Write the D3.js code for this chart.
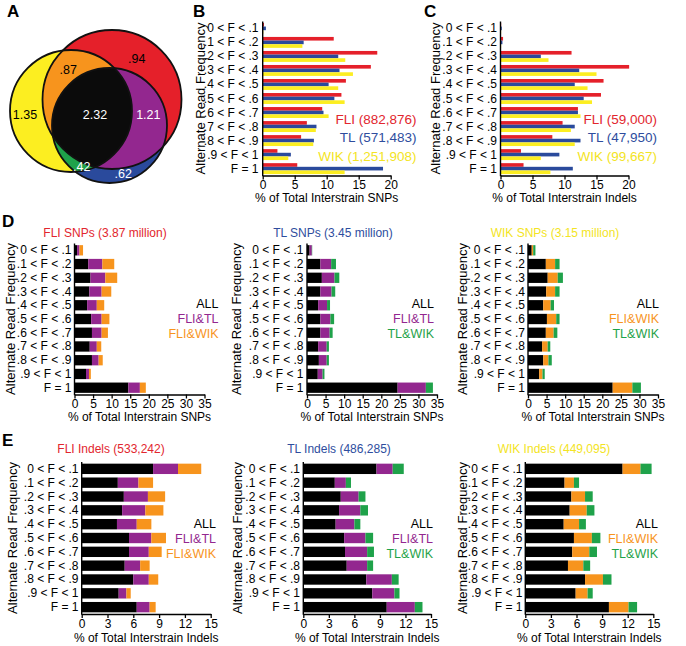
<!DOCTYPE html>
<html><head><meta charset="utf-8">
<script src="https://cdn.jsdelivr.net/npm/d3@7"></script>
<style>
body{margin:0;background:#fff}
svg{display:block}
text{font-family:"Liberation Sans",Arial,Helvetica,sans-serif}
</style>
</head><body>
<svg id="chart" width="686" height="646"></svg>
<script>
// ---------------- DATA ----------------
const categories = ["0 < F < .1", ".1 < F < .2", ".2 < F < .3", ".3 < F < .4", ".4 < F < .5",
  ".5 < F < .6", ".6 < F < .7", ".7 < F < .8", ".8 < F < .9", ".9 < F < 1", "F = 1"];

// Panel A: Venn (millions of SNPs)
const vennLabels = ["1.35", ".94", ".62", ".87", ".42", "1.21", "2.32"]; // Y, R, B, YR, YB, RB, YRB

// Panel B: % of total interstrain SNPs
const snpFLI = [0.2, 11.1, 17.9, 16.9, 13.0, 12.3, 9.3, 6.9, 6.0, 2.3, 5.4];
const snpTL  = [0.5, 6.4, 11.8, 12.0, 10.3, 11.2, 9.5, 8.4, 8.0, 4.4, 18.8];
const snpWIK = [0.1, 6.2, 12.9, 14.1, 11.8, 12.8, 10.3, 8.3, 7.9, 4.0, 12.8];
const snpLegend = ["FLI (882,876)", "TL (571,483)", "WIK (1,251,908)"];

// Panel C: % of total interstrain indels
const indelFLI = [0.1, 0.4, 11.1, 20.1, 16.1, 15.7, 12.1, 9.7, 8.1, 3.2, 3.6];
const indelTL  = [0.2, 0.3, 6.3, 12.3, 11.6, 13.0, 12.1, 11.6, 12.5, 9.2, 11.3];
const indelWIK = [0.1, 0.1, 7.5, 15.0, 13.6, 14.3, 12.5, 11.0, 11.6, 6.3, 7.8];
const indelLegend = ["FLI (59,000)", "TL (47,950)", "WIK (99,667)"];

// Panel D: stacked SNPs (segments)
const dFLI_all = [0.7, 3.7, 4.3, 4.0, 3.4, 4.5, 4.7, 4.1, 4.7, 3.1, 14.5];
const dFLI_tl  = [0.65, 3.8, 4.0, 3.3, 2.6, 2.8, 2.6, 1.9, 1.8, 0.8, 3.1];
const dFLI_wik = [0.95, 3.2, 3.2, 2.6, 2.0, 2.1, 1.7, 1.2, 1.1, 0.5, 1.6];
const dTL_all  = [0.7, 3.6, 4.0, 3.6, 3.0, 3.6, 3.6, 3.0, 3.2, 2.9, 24.4];
const dTL_fli  = [0.6, 2.9, 3.4, 3.0, 2.4, 2.7, 2.5, 2.3, 2.1, 1.3, 7.6];
const dTL_wik  = [0.1, 1.3, 1.3, 1.0, 0.8, 1.0, 0.8, 0.6, 0.6, 0.5, 1.9];
const dWIK_all = [1.0, 4.8, 5.3, 4.9, 4.1, 5.1, 4.8, 3.8, 4.1, 3.0, 22.8];
const dWIK_fli = [0.4, 2.5, 2.7, 2.4, 2.0, 2.5, 2.1, 1.5, 1.4, 0.9, 5.3];
const dWIK_tl  = [0.6, 1.2, 1.4, 1.2, 0.9, 0.9, 1.0, 0.7, 0.9, 0.6, 2.3];

// Panel E: stacked indels (segments)
const eFLI_all = [8.3, 4.2, 4.9, 4.7, 4.1, 5.5, 5.5, 5.0, 6.0, 4.3, 6.4];
const eFLI_tl  = [2.9, 2.4, 2.8, 2.7, 2.3, 2.6, 2.3, 1.8, 1.8, 0.9, 1.5];
const eFLI_wik = [2.7, 1.7, 2.0, 2.1, 1.7, 1.7, 1.5, 1.1, 1.1, 0.5, 0.7];
const eTL_all  = [8.6, 3.7, 4.4, 4.2, 3.8, 4.8, 4.9, 5.1, 7.4, 8.1, 9.8];
const eTL_fli  = [1.9, 1.3, 2.1, 2.5, 2.2, 2.5, 2.6, 2.4, 3.0, 2.6, 3.3];
const eTL_wik  = [1.3, 0.6, 0.8, 0.9, 0.7, 0.9, 0.8, 0.7, 0.8, 0.6, 0.9];
const eWIK_all = [11.4, 4.6, 5.4, 5.2, 4.5, 5.7, 5.5, 5.0, 7.0, 5.9, 9.8];
const eWIK_fli = [2.1, 1.1, 1.6, 2.0, 1.8, 2.1, 2.0, 1.8, 2.1, 1.4, 2.3];
const eWIK_tl  = [1.3, 0.6, 0.9, 0.9, 0.8, 1.0, 0.9, 0.8, 1.0, 0.6, 1.0];

const snpTicks = [0, 5, 10, 15, 20];
const dTicks = [0, 5, 10, 15, 20, 25, 30, 35];
const eTicks = [0, 3, 6, 9, 12, 15];

// ---------------- STYLE ----------------
const C = {
  red: "#e5202a", blue: "#2a4a9c", yellow: "#fcee21",
  black: "#000000", purple: "#93278f", orange: "#f7941d", green: "#1fa24a",
  redText: "#e2262e", blueText: "#2e4d9e", yellowText: "#f3e424"
};

const svg = d3.select("#chart");

function panelLetter(t, x, y) {
  svg.append("text").attr("x", x).attr("y", y).text(t)
    .attr("font-size", 17).attr("font-weight", "bold").attr("fill", "#000");
}

function styleAxis(g, fs) {
  g.select(".domain").attr("stroke", "#000").attr("stroke-width", 1.4);
  g.selectAll(".tick line").attr("stroke", "#000").attr("stroke-width", 1.3);
  g.selectAll(".tick text").attr("font-size", fs).attr("fill", "#000")
    .attr("font-family", "'Liberation Sans',Arial,sans-serif");
}

function frame(o, y, x) {
  // category labels
  svg.append("g").selectAll("text").data(categories).join("text")
    .attr("x", o.labX).attr("y", d => y(d) + y.bandwidth() / 2)
    .attr("text-anchor", "end").attr("dominant-baseline", "central")
    .attr("font-size", 12).attr("fill", "#000").text(d => d);
  // x axis
  const ga = svg.append("g").attr("transform", `translate(0,${o.y1})`)
    .call(d3.axisBottom(x).tickValues(o.ticks).tickSize(4).tickSizeOuter(0).tickPadding(1));
  styleAxis(ga, 12);
  // y axis line
  svg.append("line").attr("x1", x(0)).attr("x2", x(0)).attr("y1", o.y0).attr("y2", o.y1 + 0.7)
    .attr("stroke", "#000").attr("stroke-width", 1.4);
  // rotated title
  svg.append("text")
    .attr("transform", `translate(${o.rotX},${(o.y0 + o.y1) / 2}) rotate(-90)`)
    .attr("text-anchor", "middle").attr("dominant-baseline", "central")
    .attr("font-size", 13).attr("fill", "#000").text("Alternate Read Frequency");
  // x title
  svg.append("text").attr("x", (x.range()[0] + x.range()[1]) / 2).attr("y", o.titleY)
    .attr("text-anchor", "middle").attr("dominant-baseline", "central")
    .attr("font-size", 12).attr("fill", "#000").text(o.xTitle);
}

function grouped(o) {
  const x = d3.scaleLinear().domain([0, o.max]).range([o.x0, o.x1]);
  const y = d3.scaleBand().domain(categories).range([o.y0, o.y1]).paddingInner(0.22).paddingOuter(0.1);
  const ys = d3.scaleBand().domain(d3.range(o.series.length)).range([0, y.bandwidth()]);
  o.series.forEach((s, si) => {
    svg.append("g").selectAll("rect").data(s).join("rect")
      .attr("x", x(0)).attr("y", (d, i) => y(categories[i]) + ys(si))
      .attr("width", d => x(d) - x(0)).attr("height", ys.bandwidth())
      .attr("fill", o.colors[si]);
  });
  frame(o, y, x);
  o.legend.forEach((t, i) => {
    svg.append("text").attr("x", o.legX).attr("y", o.legY + i * 18.5)
      .attr("text-anchor", "end").attr("dominant-baseline", "central")
      .attr("font-size", 13.5).attr("fill", o.legColors[i]).text(t);
  });
}

function stacked(o) {
  const x = d3.scaleLinear().domain([0, o.max]).range([o.x0, o.x1]);
  const y = d3.scaleBand().domain(categories).range([o.y0, o.y1]).paddingInner(0.25).paddingOuter(0.12);
  const rows = categories.map((c, i) => {
    let acc = 0;
    return o.series.map((s, si) => { const r = { c, si, a: acc, b: acc + s[i] }; acc += s[i]; return r; });
  }).flat();
  svg.append("g").selectAll("rect").data(rows).join("rect")
    .attr("x", d => x(d.a)).attr("y", d => y(d.c))
    .attr("width", d => x(d.b) - x(d.a)).attr("height", y.bandwidth())
    .attr("fill", d => o.colors[d.si]);
  frame(o, y, x);
  svg.append("text").attr("x", o.subX).attr("y", o.subY)
    .attr("text-anchor", "middle").attr("dominant-baseline", "central")
    .attr("font-size", 12).attr("fill", o.subColor).text(o.sub);
  o.legend.forEach((t, i) => {
    svg.append("text").attr("x", o.legX).attr("y", o.legY + i * 15)
      .attr("text-anchor", "end").attr("dominant-baseline", "central")
      .attr("font-size", 12.5).attr("fill", o.colors[i]).text(t);
  });
}

// ---------------- PANEL A : VENN ----------------
(function venn() {
  const circles = { Y: { cx: 71, cy: 111, r: 61 }, R: { cx: 112, cy: 99.5, r: 69.5 }, B: { cx: 109.5, cy: 125.5, r: 57.5 } };
  const defs = svg.append("defs");
  Object.entries(circles).forEach(([k, c]) => {
    defs.append("clipPath").attr("id", "clip" + k).append("circle")
      .attr("cx", c.cx).attr("cy", c.cy).attr("r", c.r);
  });
  const g = svg.append("g");
  const circ = (parent, k, fill) => parent.append("circle").attr("cx", circles[k].cx)
    .attr("cy", circles[k].cy).attr("r", circles[k].r).attr("fill", fill);
  circ(g, "Y", C.yellow);
  circ(g, "R", C.red);
  circ(g, "B", C.blue);
  circ(g.append("g").attr("clip-path", "url(#clipY)"), "R", C.orange);
  circ(g.append("g").attr("clip-path", "url(#clipY)"), "B", C.green);
  circ(g.append("g").attr("clip-path", "url(#clipR)"), "B", C.purple);
  circ(g.append("g").attr("clip-path", "url(#clipY)").append("g").attr("clip-path", "url(#clipR)"), "B", "#0b0b0b");
  Object.keys(circles).forEach(k => {
    g.append("circle").attr("cx", circles[k].cx).attr("cy", circles[k].cy).attr("r", circles[k].r)
      .attr("fill", "none").attr("stroke", "#111").attr("stroke-width", 1.8);
  });
  const pos = [[25, 115, "#000"], [136.7, 58.5, "#000"], [123.3, 173.5, "#fff"], [68.3, 70, "#000"],
               [81.7, 166.5, "#fff"], [148.3, 115, "#fff"], [95, 115, "#fff"]];
  vennLabels.forEach((t, i) => {
    g.append("text").attr("x", pos[i][0]).attr("y", pos[i][1]).attr("text-anchor", "middle")
      .attr("dominant-baseline", "central").attr("font-size", 12.5).attr("fill", pos[i][2]).text(t);
  });
})();

panelLetter("A", 7, 17);
panelLetter("B", 193, 17);
panelLetter("C", 424, 17);
panelLetter("D", 2, 227);
panelLetter("E", 2, 446);

// ---------------- PANELS B, C ----------------
grouped({ x0: 262.7, x1: 390.7, y0: 21.5, y1: 175.5, max: 20, ticks: snpTicks,
  series: [snpFLI, snpTL, snpWIK], colors: [C.red, C.blue, C.yellow],
  labX: 258.5, rotX: 200, titleY: 197.5, xTitle: "% of Total Interstrain SNPs",
  legend: snpLegend, legColors: [C.redText, C.blueText, C.yellowText], legX: 416.5, legY: 119 });
grouped({ x0: 500.5, x1: 628.5, y0: 21.5, y1: 175.5, max: 20, ticks: snpTicks,
  series: [indelFLI, indelTL, indelWIK], colors: [C.red, C.blue, C.yellow],
  labX: 497, rotX: 435, titleY: 197.5, xTitle: "% of Total Interstrain Indels",
  legend: indelLegend, legColors: [C.redText, C.blueText, C.yellowText], legX: 657, legY: 119 });

// ---------------- PANEL D ----------------
const dY = { y0: 243.5, y1: 394.5, titleY: 416.5, max: 35, ticks: dTicks, xTitle: "% of Total Interstrain SNPs", subY: 233, legY: 304 };
stacked(Object.assign({}, dY, { x0: 74.5, x1: 204.5, labX: 71.5, rotX: 10,
  series: [dFLI_all, dFLI_tl, dFLI_wik], colors: [C.black, C.purple, C.orange],
  legend: ["ALL", "FLI&TL", "FLI&WIK"], legX: 218.5,
  sub: "FLI SNPs (3.87 million)", subX: 105, subColor: C.redText }));
stacked(Object.assign({}, dY, { x0: 307, x1: 437, labX: 303.5, rotX: 236,
  series: [dTL_all, dTL_fli, dTL_wik], colors: [C.black, C.purple, C.green],
  legend: ["ALL", "FLI&TL", "TL&WIK"], legX: 434,
  sub: "TL SNPs (3.45 million)", subX: 333, subColor: C.blueText }));
stacked(Object.assign({}, dY, { x0: 528, x1: 658, labX: 525, rotX: 462,
  series: [dWIK_all, dWIK_fli, dWIK_tl], colors: [C.black, C.orange, C.green],
  legend: ["ALL", "FLI&WIK", "TL&WIK"], legX: 659,
  sub: "WIK SNPs (3.15 million)", subX: 555, subColor: C.yellowText }));

// ---------------- PANEL E ----------------
const eY = { y0: 462, y1: 614, titleY: 638, max: 15, ticks: eTicks, xTitle: "% of Total Interstrain Indels", subY: 449, legY: 523.5 };
stacked(Object.assign({}, eY, { x0: 81.7, x1: 210.7, labX: 78.5, rotX: 12,
  series: [eFLI_all, eFLI_tl, eFLI_wik], colors: [C.black, C.purple, C.orange],
  legend: ["ALL", "FLI&TL", "FLI&WIK"], legX: 216,
  sub: "FLI Indels (533,242)", subX: 111, subColor: C.redText }));
stacked(Object.assign({}, eY, { x0: 303.3, x1: 431, labX: 300, rotX: 237,
  series: [eTL_all, eTL_fli, eTL_wik], colors: [C.black, C.purple, C.green],
  legend: ["ALL", "FLI&TL", "TL&WIK"], legX: 433,
  sub: "TL Indels (486,285)", subX: 339, subColor: C.blueText }));
stacked(Object.assign({}, eY, { x0: 525.3, x1: 653.3, labX: 522.5, rotX: 462,
  series: [eWIK_all, eWIK_fli, eWIK_tl], colors: [C.black, C.orange, C.green],
  legend: ["ALL", "FLI&WIK", "TL&WIK"], legX: 658,
  sub: "WIK Indels (449,095)", subX: 554, subColor: C.yellowText }));
</script>
</body></html>
